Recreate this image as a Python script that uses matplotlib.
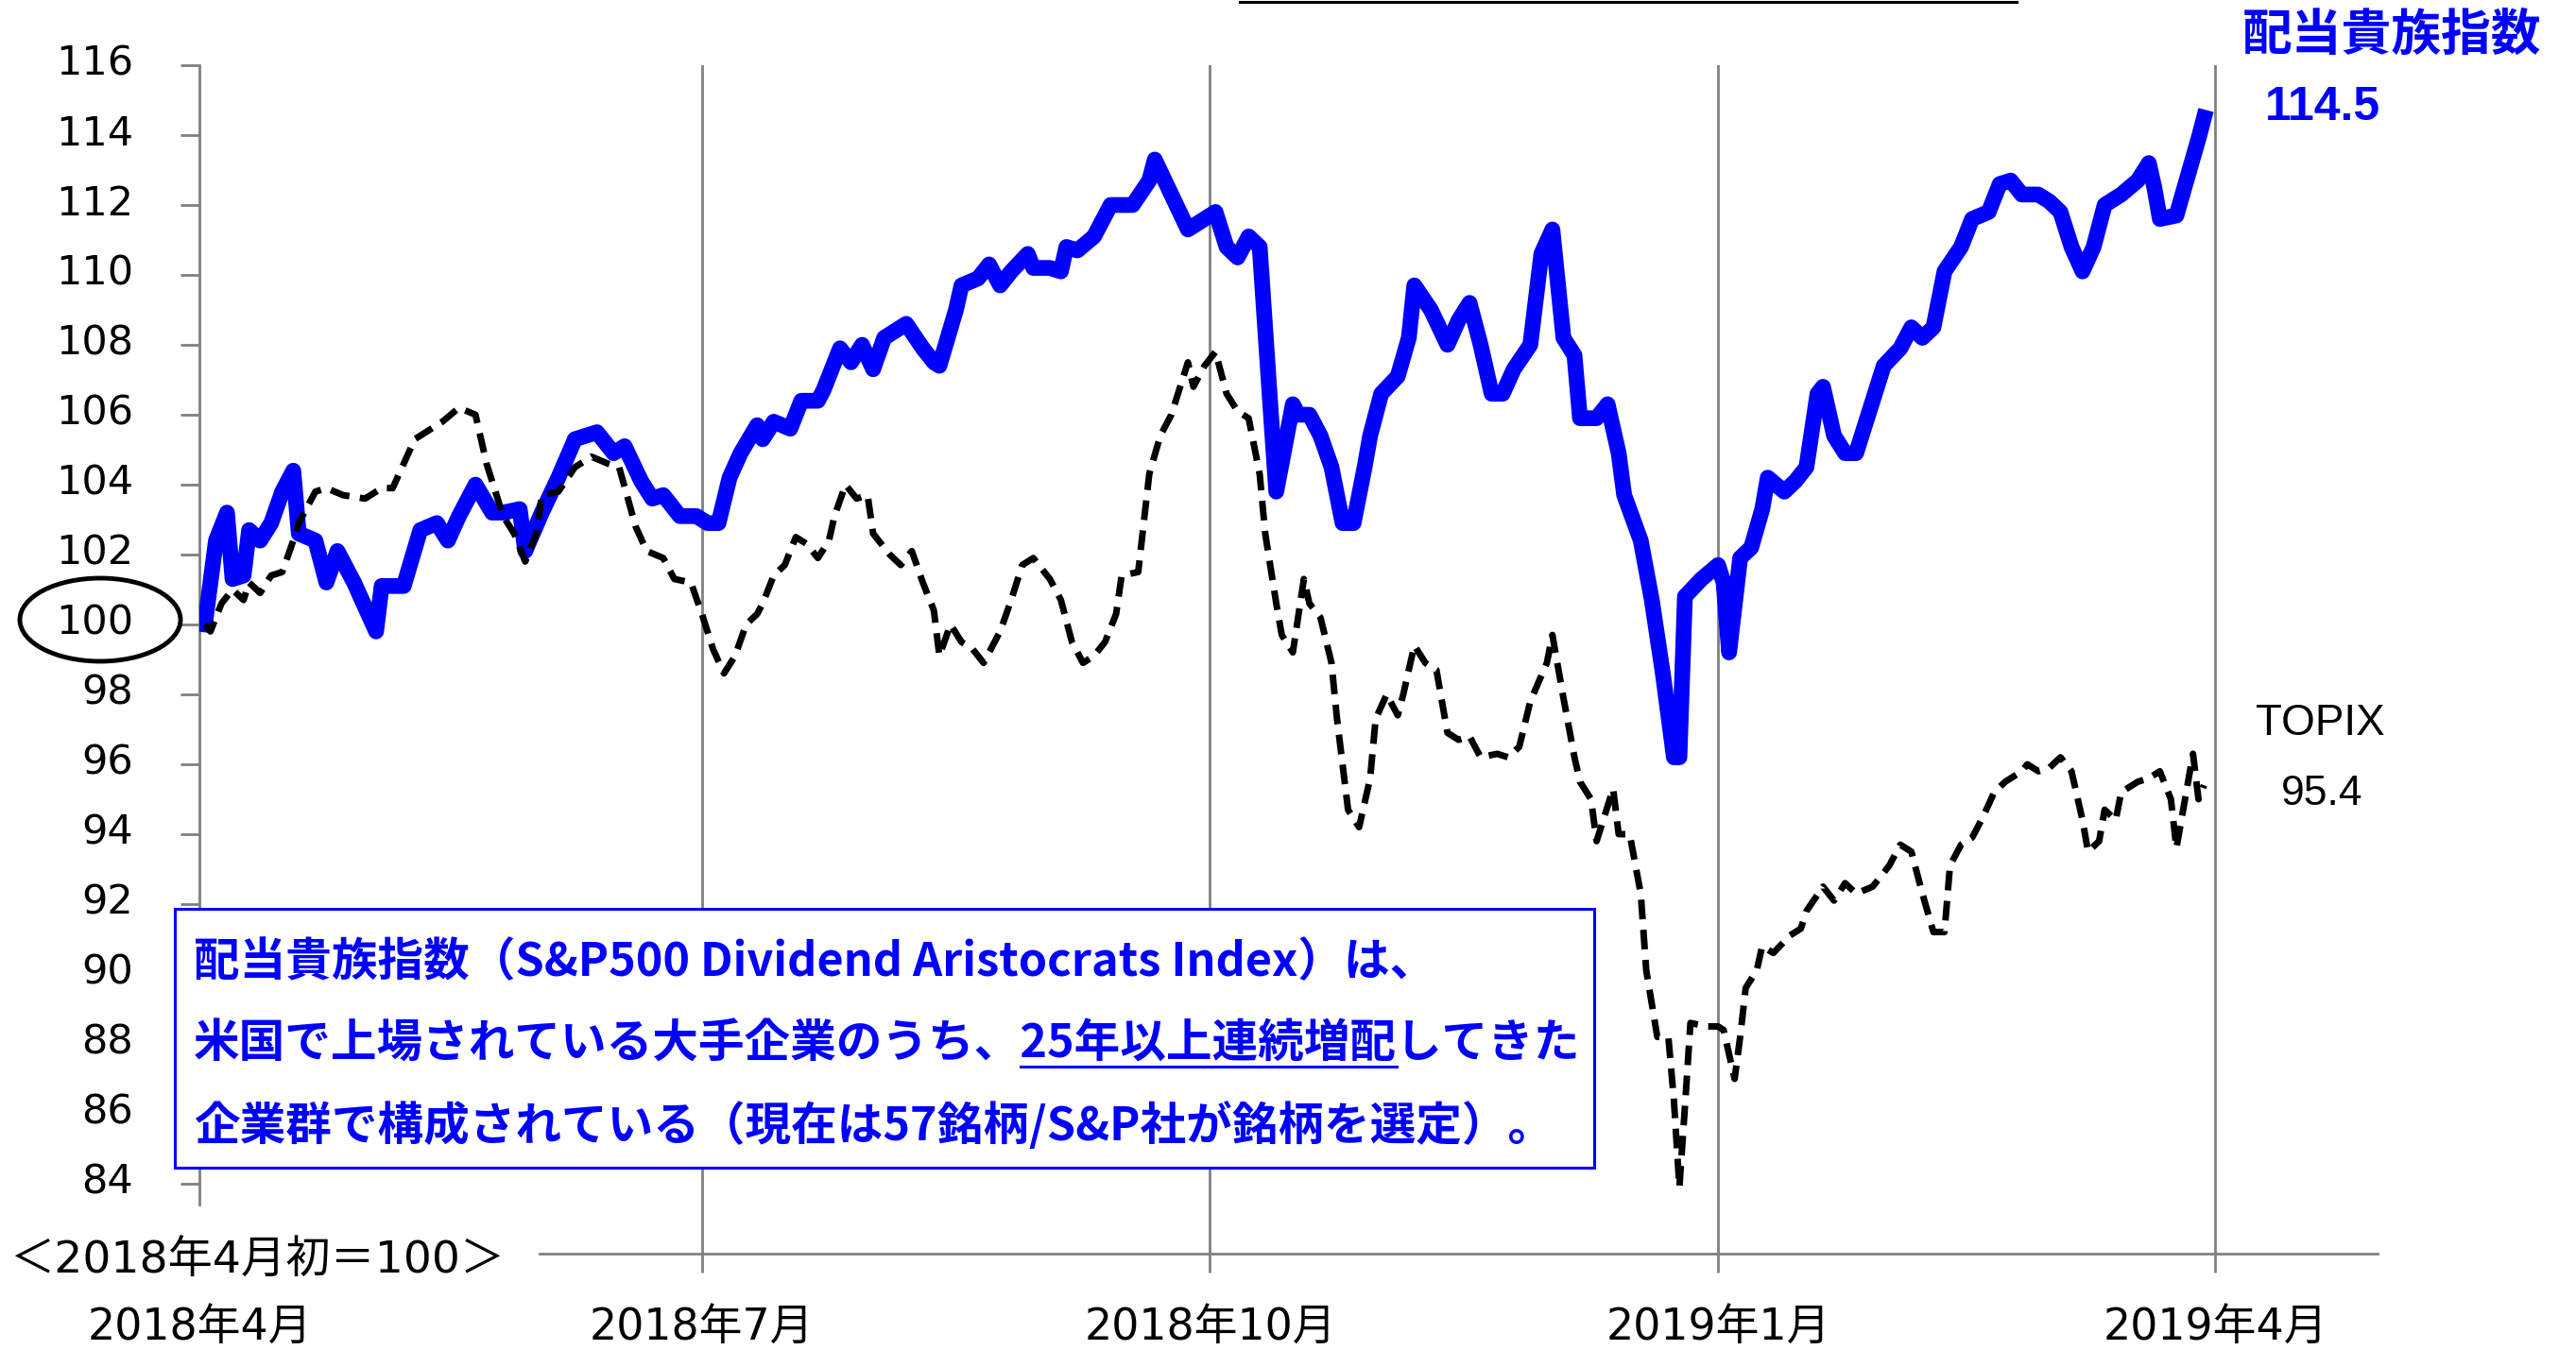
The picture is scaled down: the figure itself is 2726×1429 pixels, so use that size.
import numpy as np
import pandas as pd
import matplotlib
matplotlib.use("Agg")
import matplotlib.pyplot as plt
import matplotlib.dates as mdates
from matplotlib.patches import Ellipse, Rectangle
from matplotlib.lines import Line2D
from matplotlib.transforms import ScaledTranslation

plt.rcParams["font.family"] = ["DejaVu Sans", "Noto Sans CJK JP"]

START = pd.Timestamp("2018-04-01")

# 配当貴族指数 (days after 2018-04-01, index level)
aristo_days = [1, 3, 5, 6, 8, 9, 11, 13, 15, 17, 18, 21, 23, 25, 28, 32, 33, 37, 40, 43,
               45, 47, 50, 53, 55, 58, 59, 62, 65, 68, 72, 75, 77, 80, 82, 84, 87, 90, 92, 94,
               96, 98, 101, 102, 104, 107, 109, 112, 113, 116, 118, 120, 122, 124, 127, 128, 131, 133, 134, 137,
               138, 141, 143, 145, 147, 150, 151, 154, 156, 157, 159, 162, 165, 169, 172, 173, 176, 179, 181, 184,
               186, 188, 190, 192, 194, 195, 198, 199, 201, 203, 205, 207, 209, 211, 212, 214, 217, 219, 220, 223,
               226, 228, 230, 232, 234, 236, 238, 241, 243, 245, 247, 249, 250, 253, 255, 257, 258, 261, 263, 265,
               267, 268, 269, 272, 275, 276, 277, 279, 281, 283, 284, 287, 289, 291, 293, 294, 296, 298, 300, 303,
               305, 308, 310, 312, 314, 316, 319, 321, 324, 326, 328, 330, 333, 335, 337, 339, 341, 343, 345, 348,
               351, 353, 354, 355, 358, 360, 362, 363]
aristo_vals = [100.0, 102.4, 103.2, 101.3, 101.4, 102.7, 102.4, 102.9, 103.8, 104.4, 102.6, 102.4, 101.2, 102.1, 101.2, 99.8, 101.1, 101.1, 102.7, 102.9,
               102.4, 103.1, 104.0, 103.2, 103.2, 103.3, 102.1, 103.2, 104.2, 105.3, 105.5, 104.9, 105.1, 104.1, 103.6, 103.7, 103.1, 103.1, 102.9, 102.9,
               104.2, 104.9, 105.7, 105.3, 105.8, 105.6, 106.4, 106.4, 106.7, 107.9, 107.5, 108.0, 107.3, 108.2, 108.5, 108.6, 107.9, 107.5, 107.4, 109.0,
               109.7, 109.9, 110.3, 109.7, 110.1, 110.6, 110.2, 110.2, 110.1, 110.8, 110.7, 111.1, 112.0, 112.0, 112.7, 113.3, 112.3, 111.3, 111.5, 111.8,
               110.8, 110.5, 111.1, 110.8, 106.1, 103.8, 106.3, 106.0, 106.0, 105.4, 104.5, 102.9, 102.9, 104.5, 105.4, 106.6, 107.1, 108.2, 109.7, 109.0,
               108.0, 108.7, 109.2, 108.0, 106.6, 106.6, 107.3, 108.0, 110.6, 111.3, 108.2, 107.7, 105.9, 105.9, 106.3, 104.9, 103.7, 102.4, 100.7, 98.6,
               96.2, 96.2, 100.8, 101.3, 101.7, 101.2, 99.2, 101.9, 102.2, 103.3, 104.2, 103.8, 104.1, 104.5, 106.6, 106.8, 105.4, 104.9, 104.9, 106.4,
               107.4, 107.9, 108.5, 108.2, 108.5, 110.1, 110.8, 111.6, 111.8, 112.6, 112.7, 112.3, 112.3, 112.1, 111.8, 110.8, 110.1, 110.8, 112.0, 112.3,
               112.7, 113.2, 112.5, 111.6, 111.7, 112.8, 113.9, 114.5]

# TOPIX (days after 2018-04-01, index level)
topix_days = [1, 2, 4, 6, 8, 9, 11, 13, 15, 17, 18, 21, 23, 26, 30, 33, 35, 37, 39, 42,
              44, 47, 50, 52, 55, 57, 59, 61, 62, 65, 68, 71, 74, 76, 79, 81, 84, 86, 89, 91,
              93, 95, 97, 99, 101, 102, 104, 106, 108, 110, 112, 114, 115, 117, 119, 121, 122, 125, 127, 129,
              131, 133, 134, 136, 138, 140, 142, 145, 147, 149, 151, 154, 156, 158, 160, 162, 164, 166, 167, 170,
              171, 172, 174, 176, 178, 179, 180, 182, 184, 186, 188, 190, 192, 193, 195, 196, 198, 200, 201, 203,
              205, 206, 208, 210, 212, 213, 215, 217, 218, 220, 222, 224, 226, 228, 230, 232, 235, 237, 239, 241,
              244, 245, 247, 249, 250, 252, 253, 255, 256, 257, 259, 261, 262, 264, 266, 267, 268, 269, 270, 273,
              275, 276, 278, 279, 280, 282, 283, 285, 288, 290, 291, 294, 296, 298, 300, 303, 306, 308, 310, 312,
              314, 316, 317, 319, 321, 323, 325, 327, 330, 331, 333, 335, 337, 339, 341, 342, 344, 345, 347, 348,
              351, 353, 355, 357, 358, 360, 361, 362, 363]
topix_vals = [100.0, 99.8, 100.6, 101.0, 100.7, 101.2, 100.9, 101.4, 101.5, 102.4, 102.9, 103.8, 103.9, 103.7, 103.6, 103.9, 103.9, 104.6, 105.3, 105.6,
              105.8, 106.2, 106.0, 104.6, 103.1, 102.6, 101.8, 102.6, 103.7, 103.8, 104.5, 104.8, 104.6, 104.5, 102.8, 102.1, 101.9, 101.3, 101.2, 100.3,
              99.3, 98.6, 99.1, 100.0, 100.3, 100.6, 101.4, 101.7, 102.5, 102.3, 101.9, 102.4, 103.1, 104.0, 103.6, 103.7, 102.6, 102.0, 101.7, 102.1,
              101.2, 100.4, 99.1, 100.0, 99.5, 99.3, 98.9, 99.8, 100.7, 101.7, 101.9, 101.3, 100.7, 99.5, 98.9, 99.1, 99.5, 100.3, 101.4, 101.5,
              102.9, 104.3, 105.4, 106.0, 107.0, 107.5, 106.8, 107.4, 107.8, 106.6, 106.1, 105.9, 104.3, 102.6, 100.6, 99.7, 99.2, 101.3, 100.6, 100.2,
              98.9, 97.3, 94.7, 94.2, 95.6, 97.3, 98.0, 97.4, 98.0, 99.4, 98.9, 98.7, 96.9, 96.7, 96.8, 96.2, 96.3, 96.2, 96.5, 97.8,
              98.9, 99.7, 97.9, 96.2, 95.5, 95.0, 93.8, 94.8, 95.3, 94.0, 94.0, 92.3, 90.1, 88.2, 88.2, 86.4, 83.9, 86.2, 88.6, 88.5,
              88.5, 88.4, 87.0, 88.2, 89.6, 90.1, 90.8, 90.6, 91.1, 91.3, 91.8, 92.5, 92.1, 92.6, 92.3, 92.5, 93.1, 93.7, 93.5, 92.3,
              91.2, 91.2, 93.1, 93.7, 93.9, 94.5, 95.2, 95.5, 95.8, 96.0, 95.8, 95.9, 96.2, 95.8, 94.4, 93.5, 93.8, 94.7, 94.4, 95.2,
              95.5, 95.6, 95.8, 95.0, 93.6, 95.4, 96.3, 95.0, 95.4]

y_ticks = list(range(84, 117, 2))
x_tick_dates = ["2018-04-01", "2018-07-01", "2018-10-01", "2019-01-01", "2019-04-01"]
x_tick_labels = ["2018年4月", "2018年7月", "2018年10月", "2019年1月", "2019年4月"]

box_lines = ["配当貴族指数（S&P500 Dividend Aristocrats Index）は、",
             "米国で上場されている大手企業のうち、25年以上連続増配してきた",
             "企業群で構成されている（現在は57銘柄/S&P社が銘柄を選定）。"]
underline_prefix = "米国で上場されている大手企業のうち、"
underline_part = "25年以上連続増配"

W, H = 2726, 1429
BLUE = "#0000FF"
GRAY = "#808080"


def fx(px):
    return px / W


def fy(py):
    return 1 - py / H


fig = plt.figure(figsize=(W / 100, H / 100), dpi=100)
ax = fig.add_axes([fx(211), fy(1327), fx(2516) - fx(211), fy(69) - fy(1327)])

a_dates = START + pd.to_timedelta(aristo_days, unit="D")
t_dates = START + pd.to_timedelta(topix_days, unit="D")
ax.plot(a_dates, aristo_vals, color=BLUE, lw=12, solid_joinstyle="round", zorder=3)
ax.plot(t_dates, topix_vals, color="black", lw=5, linestyle=(0, (3, 1.6)), zorder=4)

x0 = mdates.date2num(START)
x1 = x0 + (2516 - 211) / 5.844
ax.set_xlim(x0, x1)
ax.set_ylim(116 - (1327 - 69) / 37.0, 116)

for s in ["top", "right"]:
    ax.spines[s].set_visible(False)
ax.spines["left"].set_color(GRAY)
ax.spines["left"].set_linewidth(2)
ax.spines["left"].set_bounds(83.4, 116)
ax.spines["bottom"].set_color(GRAY)
ax.spines["bottom"].set_linewidth(2)
ax.spines["bottom"].set_bounds(x0 + (571 - 211) / 5.844, x1)

ax.set_yticks(y_ticks)
ax.set_yticklabels([str(v) for v in y_ticks])
ax.tick_params(axis="y", length=14.4, width=2, color=GRAY, labelsize=31, pad=36)
for lab in ax.get_yticklabels():
    lab.set_transform(lab.get_transform() + ScaledTranslation(0, 6 / 100, fig.dpi_scale_trans))

ax.set_xticks(mdates.date2num(pd.to_datetime(x_tick_dates)))
ax.set_xticklabels(x_tick_labels)
ax.tick_params(axis="x", length=14.4, width=2, color=GRAY, labelsize=33, pad=26)
ax.grid(axis="x", color=GRAY, lw=2)
first = ax.xaxis.get_major_ticks()[0]
first.tick1line.set_visible(False)
first.gridline.set_visible(False)

# base note and circle around 100
fig.text(fx(10), fy(1335), "＜2018年4月初＝100＞", fontsize=34, ha="left", va="center",
         family=["DejaVu Sans", "Noto Sans CJK JP"])
fig.add_artist(Ellipse((fx(106), fy(656)), fx(170), 88 / H, transform=fig.transFigure,
                       fill=False, edgecolor="black", lw=3.5, zorder=5))

# end labels
fig.text(fx(2531), fy(37), "配当貴族指数", fontsize=38, color=BLUE, weight="bold",
         ha="center", va="center", family=["Noto Sans CJK JP"])
fig.text(fx(2458), fy(114), "114.5", fontsize=36, color=BLUE, weight="bold",
         ha="center", va="center", family=["Liberation Sans"])
fig.text(fx(2455), fy(766), "TOPIX", fontsize=33, color="black",
         ha="center", va="center", family=["Liberation Sans"])
fig.text(fx(2457), fy(841), "95.4", fontsize=32, color="black",
         ha="center", va="center", family=["Liberation Sans"])

# cut-off line at the top edge
fig.add_artist(Line2D([fx(1312), fx(2134)], [fy(1.5), fy(1.5)], color="black", lw=2.2,
                      transform=fig.transFigure))

# description box
fig.add_artist(Rectangle((fx(185), fy(1236)), fx(1687) - fx(185), fy(962) - fy(1236),
                         transform=fig.transFigure, facecolor="white", edgecolor=BLUE,
                         lw=2.2, zorder=10))
box_font = dict(fontsize=35, color=BLUE, weight="bold", family=["Noto Sans CJK JP"],
                ha="left", va="center", zorder=11)
line_y = [1019, 1105, 1192]
for txt, ly in zip(box_lines, line_y):
    fig.text(fx(205), fy(ly), txt, **box_font)

fig.canvas.draw()
r = fig.canvas.get_renderer()
tmp = fig.text(0, 0, underline_prefix, **box_font)
w_pre = tmp.get_window_extent(r).width
tmp.set_text(underline_part)
w_part = tmp.get_window_extent(r).width
tmp.remove()
ux0 = 205 + w_pre
fig.add_artist(Line2D([fx(ux0), fx(ux0 + w_part)], [fy(1129), fy(1129)], color=BLUE, lw=2.2,
                      transform=fig.transFigure, zorder=11))

fig.savefig("out.png", dpi=100)
